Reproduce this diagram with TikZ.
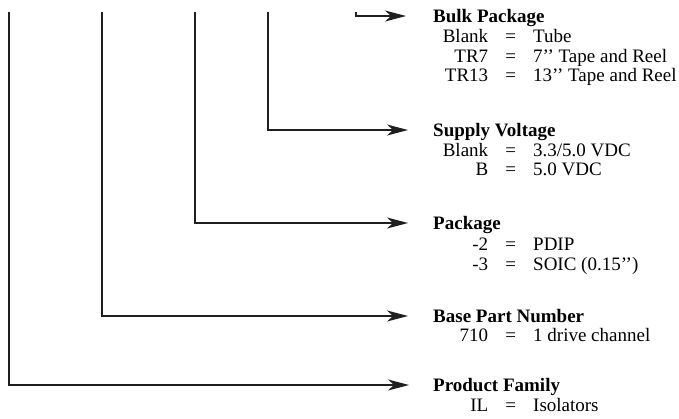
\documentclass[tikz,border=0pt]{standalone}
\usepackage{fontspec}
\setmainfont{Liberation Serif}
\usetikzlibrary{arrows.meta}
\newcommand\drow[2]{\makebox[55pt][r]{#1}\makebox[45pt][c]{=}#2}
\newcommand\inchq{{'}{'}}
\begin{document}
\begin{tikzpicture}[x=1pt,y=1pt,
  conn/.style={line width=1.3pt, color=black!88, -{Stealth[length=21pt,width=11pt,inset=6pt]}},
  ttl/.style={anchor=base west, inner sep=0pt, font=\fontsize{19}{21}\selectfont\bfseries},
  row/.style={anchor=base west, inner sep=0pt, font=\fontsize{19}{21}\selectfont}]
\useasboundingbox (0,0) rectangle (679,-418);
% start points and arrow ends
\coordinate (s1) at (9,-12);   \coordinate (e1) at (409,-385);
\coordinate (s2) at (102,-12); \coordinate (e2) at (408,-316);
\coordinate (s3) at (195,-12); \coordinate (e3) at (408,-223);
\coordinate (s4) at (268,-12); \coordinate (e4) at (408,-130);
\coordinate (s5) at (356,-12); \coordinate (e5) at (406,-16);
% Bulk Package
\node[ttl] (bulk) at (433,-22) {Bulk Package};
\node[row] (bulk1) at (433,-42) {\drow{Blank}{Tube}};
\node[row] (bulk2) at (433,-62) {\drow{TR7}{7\inchq\ Tape and Reel}};
\node[row] (bulk3) at (433,-81) {\drow{TR13}{13\inchq\ Tape and Reel}};
% Supply Voltage
\node[ttl] (sup) at (433,-136) {Supply Voltage};
\node[row] (sup1) at (433,-156) {\drow{Blank}{3.3/5.0 VDC}};
\node[row] (sup2) at (433,-175) {\drow{B}{5.0 VDC}};
% Package
\node[ttl] (pkg) at (433,-229) {Package};
\node[row] (pkg1) at (433,-250) {\drow{-2}{PDIP}};
\node[row] (pkg2) at (433,-270) {\drow{-3}{SOIC (0.15\inchq)}};
% Base Part Number
\node[ttl] (base) at (433,-322) {Base Part Number};
\node[row] (base1) at (433,-341) {\drow{710}{1 drive channel}};
% Product Family
\node[ttl] (fam) at (433,-391) {Product Family};
\node[row] (fam1) at (433,-411) {\drow{IL}{Isolators}};
% connectors
\draw[conn] (s1) |- (e1);
\draw[conn] (s2) |- (e2);
\draw[conn] (s3) |- (e3);
\draw[conn] (s4) |- (e4);
\draw[conn] (s5) |- (e5);
\end{tikzpicture}
\end{document}
